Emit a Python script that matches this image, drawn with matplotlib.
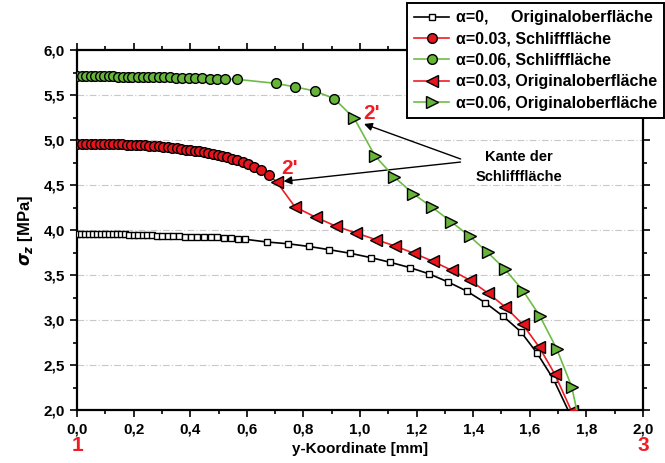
import matplotlib.pyplot as plt
from matplotlib.ticker import MultipleLocator

plt.rcParams['font.family'] = ['Liberation Sans', 'DejaVu Sans']
plt.rcParams['font.weight'] = 'bold'

# alpha = 0, Originaloberflaeche
x_a0 = [0.0, 0.014, 0.028, 0.042, 0.056, 0.070, 0.084, 0.098, 0.112, 0.126, 0.140,
        0.155, 0.170, 0.185, 0.200, 0.216, 0.232, 0.249, 0.266, 0.284, 0.302, 0.321,
        0.340, 0.360, 0.381, 0.403, 0.425, 0.448, 0.472, 0.496, 0.520, 0.545, 0.570,
        0.594, 0.670, 0.746, 0.820, 0.890, 0.965, 1.040, 1.106, 1.177, 1.245, 1.312,
        1.377, 1.443, 1.506, 1.568, 1.626, 1.684, 1.742]
y_a0 = [3.96, 3.96, 3.96, 3.96, 3.96, 3.96, 3.96, 3.96, 3.96, 3.96, 3.955,
        3.955, 3.955, 3.95, 3.95, 3.95, 3.95, 3.945, 3.945, 3.94, 3.94, 3.94,
        3.935, 3.935, 3.93, 3.93, 3.925, 3.925, 3.92, 3.92, 3.915, 3.91, 3.905,
        3.90, 3.87, 3.85, 3.82, 3.785, 3.745, 3.695, 3.645, 3.585, 3.515, 3.425,
        3.325, 3.195, 3.045, 2.875, 2.635, 2.345, 1.96]

# alpha = 0.03, Schlifffläche (last point = edge 2')
x_a3s = [0.0, 0.016, 0.032, 0.048, 0.064, 0.080, 0.096, 0.112, 0.128, 0.144, 0.160,
         0.176, 0.192, 0.208, 0.224, 0.240, 0.256, 0.272, 0.288, 0.304, 0.320, 0.336,
         0.352, 0.368, 0.384, 0.400, 0.416, 0.432, 0.448, 0.464, 0.480, 0.497, 0.514,
         0.531, 0.548, 0.566, 0.585, 0.605, 0.626, 0.650, 0.678, 0.705]
y_a3s = [4.96, 4.96, 4.96, 4.96, 4.96, 4.96, 4.96, 4.955, 4.955, 4.955, 4.955,
         4.95, 4.95, 4.95, 4.945, 4.945, 4.94, 4.935, 4.93, 4.925, 4.92, 4.915,
         4.91, 4.905, 4.895, 4.89, 4.88, 4.875, 4.865, 4.855, 4.845, 4.835, 4.82,
         4.81, 4.795, 4.775, 4.755, 4.73, 4.70, 4.665, 4.61, 4.54]

# alpha = 0.06, Schlifffläche (last point = edge 2')
x_a6s = [0.0, 0.016, 0.032, 0.048, 0.064, 0.080, 0.096, 0.112, 0.128, 0.145, 0.162,
         0.179, 0.196, 0.214, 0.232, 0.250, 0.269, 0.288, 0.308, 0.328, 0.349, 0.371,
         0.394, 0.418, 0.443, 0.469, 0.496, 0.524, 0.564, 0.702, 0.771, 0.841, 0.909,
         0.980]
y_a6s = [5.71, 5.71, 5.71, 5.71, 5.71, 5.71, 5.71, 5.71, 5.71, 5.705, 5.705,
         5.705, 5.705, 5.70, 5.70, 5.70, 5.70, 5.695, 5.695, 5.695, 5.69, 5.69,
         5.69, 5.685, 5.685, 5.68, 5.68, 5.675, 5.675, 5.63, 5.59, 5.545, 5.46,
         5.24]

# alpha = 0.03, Originaloberfläche
x_a3o = [0.705, 0.770, 0.843, 0.915, 0.986, 1.057, 1.124, 1.190, 1.258, 1.324, 1.389,
         1.451, 1.513, 1.575, 1.633, 1.688, 1.748]
y_a3o = [4.54, 4.26, 4.145, 4.045, 3.97, 3.895, 3.825, 3.745, 3.655, 3.555, 3.445,
         3.305, 3.15, 2.955, 2.705, 2.405, 1.99]

# alpha = 0.06, Originaloberfläche
x_a6o = [0.980, 1.053, 1.120, 1.188, 1.255, 1.322, 1.387, 1.451, 1.513, 1.576, 1.636,
         1.695, 1.748, 1.780]
y_a6o = [5.24, 4.825, 4.595, 4.405, 4.255, 4.095, 3.935, 3.755, 3.565, 3.33, 3.045,
         2.685, 2.265, 1.80]

red = '#f01c24'
green = '#6dbd45'
red_face = '#e8141c'
green_face = '#66b53a'

fig = plt.figure(figsize=(6.65, 4.63), dpi=100)
ax = fig.add_axes([0.1158, 0.1134, 0.8511, 0.7786])

ax.plot(x_a0, y_a0, color='black', lw=1.2, marker='s', ms=5, mfc='white', mec='black',
        mew=1.0, label='α=0,     Originaloberfläche', zorder=3)
ax.plot(x_a3s, y_a3s, color=red, lw=1.2, marker='o', ms=7, mfc=red_face, mec='black',
        mew=1.0, markevery=slice(0, -1), label='α=0.03, Schlifffläche', zorder=4)
ax.plot(x_a6s, y_a6s, color=green, lw=1.2, marker='o', ms=7, mfc=green_face, mec='black',
        mew=1.0, markevery=slice(0, -1), label='α=0.06, Schlifffläche', zorder=4)
ax.plot(x_a3o, y_a3o, color=red, lw=1.2, marker='<', ms=8, mfc=red_face, mec='black',
        mew=1.0, label='α=0.03, Originaloberfläche', zorder=4)
ax.plot(x_a6o, y_a6o, color=green, lw=1.2, marker='>', ms=8, mfc=green_face, mec='black',
        mew=1.0, label='α=0.06, Originaloberfläche', zorder=4)

ax.set_xlim(0, 2.0)
ax.set_ylim(2.0, 6.0)
ax.xaxis.set_major_locator(MultipleLocator(0.2))
ax.xaxis.set_minor_locator(MultipleLocator(0.1))
ax.yaxis.set_major_locator(MultipleLocator(0.5))
ax.yaxis.set_minor_locator(MultipleLocator(0.25))
fmt = lambda v, p: f'{v:.1f}'.replace('.', ',')
ax.xaxis.set_major_formatter(plt.FuncFormatter(fmt))
ax.yaxis.set_major_formatter(plt.FuncFormatter(fmt))
ax.tick_params(which='both', direction='out', top=True, right=True, width=1.2,
               labelsize=11)
ax.tick_params(which='major', length=5)
ax.tick_params(which='minor', length=3)
for s in ax.spines.values():
    s.set_linewidth(1.6)
ax.grid(axis='y', which='major', color='#c8c8c8', lw=0.8, ls=(0, (6, 2, 1, 2)))

ax.set_xlabel('y-Koordinate [mm]', fontsize=11, fontweight='bold', labelpad=4)
ax.set_ylabel(r'$\sigma_z$ [MPa]', fontsize=12, fontweight='bold', labelpad=6)

# point labels
ax.text(0.0, -0.072, '1', transform=ax.transAxes, color=red, fontsize=15,
        fontweight='bold', ha='center', va='top')
ax.text(1.0, -0.072, '3', transform=ax.transAxes, color=red, fontsize=15,
        fontweight='bold', ha='center', va='top')
ax.text(0.75, 4.68, "2'", color=red, fontsize=15, fontweight='bold', ha='center', va='center')
ax.text(1.04, 5.30, "2'", color=red, fontsize=15, fontweight='bold', ha='center', va='center')

ax.text(1.56, 4.70, 'Kante der\nSchlifffläche', fontsize=10.5, fontweight='bold',
        ha='center', va='center', linespacing=1.55)
arrow = dict(arrowstyle='-|>', color='black', lw=1.0, mutation_scale=12)
ax.annotate('', xy=(1.005, 5.19), xytext=(1.365, 4.78), arrowprops=arrow)
ax.annotate('', xy=(0.72, 4.54), xytext=(1.365, 4.76), arrowprops=arrow)

leg = ax.legend(loc='upper left', bbox_to_anchor=(0.612, 0.9935),
                bbox_transform=fig.transFigure, fontsize=11.5, frameon=True,
                fancybox=False, borderaxespad=0, handlelength=2.2,
                labelspacing=0.4, borderpad=0.45, handletextpad=0.4)
leg.get_frame().set_edgecolor('black')
leg.get_frame().set_linewidth(1.4)
leg.get_frame().set_alpha(1)
for t in leg.get_texts():
    t.set_fontweight('bold')

fig.savefig('out.png', dpi=100)
